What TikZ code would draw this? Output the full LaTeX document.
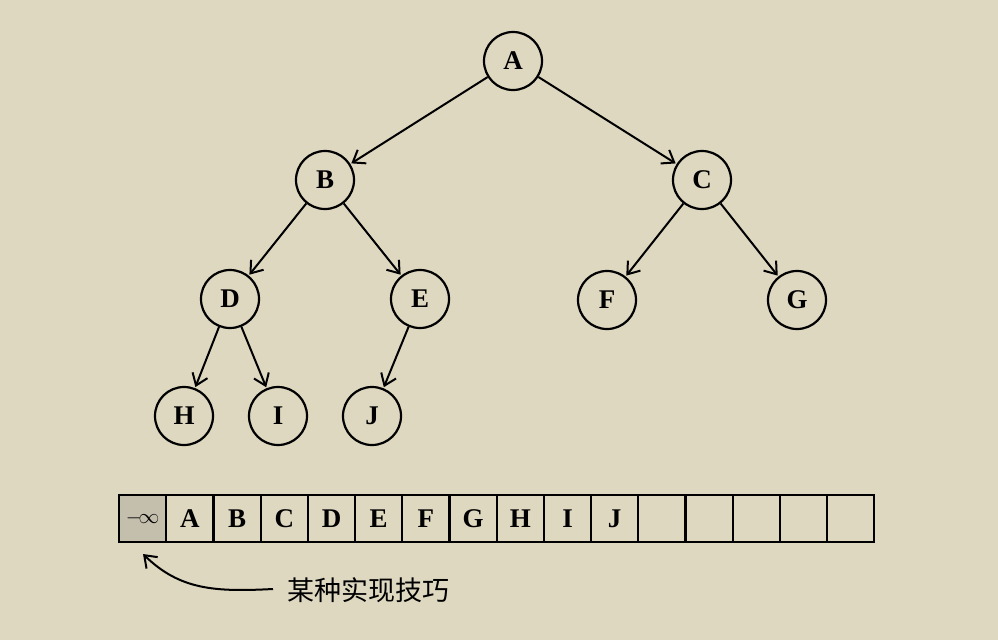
\documentclass[tikz,border=0pt]{standalone}
\usepackage{fontspec}
\setmainfont{Liberation Serif}
\newfontfamily\cjk{Noto Sans CJK SC}
\usetikzlibrary{arrows.meta,patterns}
\definecolor{bg}{RGB}{223,216,192}
\definecolor{shade}{RGB}{196,190,172}
\begin{document}
\begin{tikzpicture}[x=1pt,y=-1pt,
  tip/.style={-{Straight Barb[length=11pt,width=16pt,line width=2pt]}},
  tn/.style={circle,draw,line width=2.2pt,minimum size=58pt,inner sep=0pt,font=\fontsize{27}{27}\selectfont\bfseries},
  edge/.style={line width=2pt,tip,shorten >=1pt},
  cell/.style={draw,line width=2.2pt,minimum width=47.2pt,minimum height=47pt,inner sep=0pt,anchor=north west,font=\fontsize{27}{27}\selectfont\bfseries}]
\fill[bg] (0,0) rectangle (998,640);
\useasboundingbox (0,0) rectangle (998,640);
\node[tn] (A) at (513,61) {A};
\node[tn] (B) at (325,180) {B};
\node[tn] (C) at (702,180) {C};
\node[tn] (D) at (230,299) {D};
\node[tn] (E) at (420,299) {E};
\node[tn] (F) at (607,300) {F};
\node[tn] (G) at (797,300) {G};
\node[tn] (H) at (184,416) {H};
\node[tn] (I) at (278,416) {I};
\node[tn] (J) at (372,416) {J};
\draw[edge] (A) -- (B);
\draw[edge] (A) -- (C);
\draw[edge] (B) -- (D);
\draw[edge] (B) -- (E);
\draw[edge] (C) -- (F);
\draw[edge] (C) -- (G);
\draw[edge] (D) -- (H);
\draw[edge] (D) -- (I);
\draw[edge] (E) -- (J);
\node[cell,fill=shade,font=\fontsize{22}{22}\selectfont] (c0) at (118,494) {$-\!\infty$};
\foreach \t [count=\i] in {A,B,C,D,E,F,G,H,I,J,{},{},{},{},{}} {
  \node[cell] (c\i) at (118+47.2*\i,494) {\t};
}
\node[anchor=west,font=\cjk\fontsize{27}{27}\selectfont] (lab) at (284,590) {某种实现技巧};
\coordinate (s) at (273,589);
\coordinate (t) at (143,554);
\draw[line width=2pt,tip] (s) .. controls (215,592) and (180,590) .. (t);
\end{tikzpicture}
\end{document}
